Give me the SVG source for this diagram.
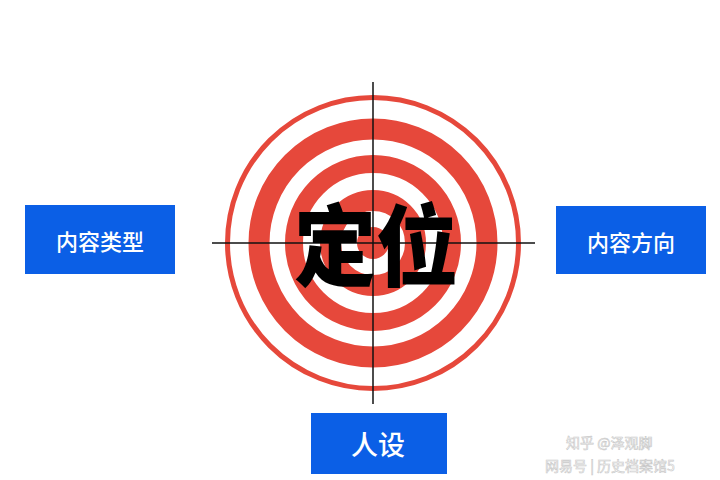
<svg xmlns="http://www.w3.org/2000/svg" width="720" height="480" viewBox="0 0 720 480">
<style>
.box{fill:#0b5fe6}
.lbl{fill:#ffffff;font-family:"Noto Sans CJK SC","Noto Sans",sans-serif;font-weight:500;text-anchor:middle;dominant-baseline:central}
.ring{fill:none;stroke:#e6483b}
.cross{stroke:#111111;stroke-width:1.5}
.wm{font-family:"Noto Sans CJK SC",sans-serif;font-size:14px;fill:none;stroke:#c8c8c8;stroke-width:0.6}
</style>
<rect width="720" height="480" fill="#ffffff"/>
<g id="target">
<circle class="ring" cx="373" cy="243" r="145.5" stroke-width="5"/>
<circle class="ring" cx="373" cy="243" r="114" stroke-width="21"/>
<circle class="ring" cx="373" cy="243" r="79" stroke-width="18"/>
<circle class="ring" cx="373" cy="243" r="42.5" stroke-width="21"/>
<circle cx="373" cy="243" r="16" fill="#e6483b"/>
</g>
<g id="connectors">
<line class="cross" x1="373" y1="82" x2="373" y2="404"/>
<line class="cross" x1="212" y1="243" x2="535" y2="243"/>
</g>
<g id="center">
<text x="376" y="241" font-family="'Noto Sans CJK SC',sans-serif" font-weight="900" font-size="82" fill="#000000" text-anchor="middle" dominant-baseline="central" transform="translate(376 241) scale(1 1.08) translate(-376 -241)">定位</text>
</g>
<g id="node-left">
<rect class="box" x="25" y="205" width="150" height="69"/>
<text class="lbl" x="100" y="240" font-size="22">内容类型</text>
</g>
<g id="node-right">
<rect class="box" x="556" y="206" width="150" height="68"/>
<text class="lbl" x="631" y="241" font-size="22">内容方向</text>
</g>
<g id="node-bottom">
<rect class="box" x="311" y="413" width="136" height="61"/>
<text class="lbl" x="378" y="443" font-size="27">人设</text>
</g>
<g id="watermark">
<text class="wm" x="566" y="448">知乎 @泽观脚</text>
<text class="wm" x="545" y="471">网易号 | 历史档案馆5</text>
</g>
</svg>
